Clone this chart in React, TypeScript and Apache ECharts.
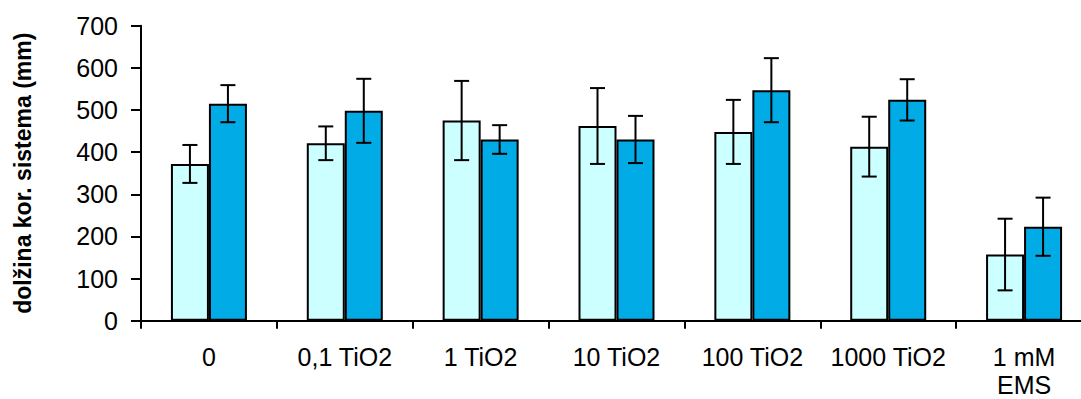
import React, { useEffect, useRef } from "react";
import * as echarts from "echarts";

const categories = ["0", "0,1 TiO2", "1 TiO2", "10 TiO2", "100 TiO2", "1000 TiO2", "1 mM\nEMS"];
const valuesLight = [372, 421, 475, 462, 448, 413, 157];
const errorsLight = [45, 40, 94, 90, 76, 71, 85];
const valuesDark = [515, 498, 430, 430, 547, 524, 223];
const errorsDark = [44, 76, 34, 56, 76, 49, 69];
const yTicks = { min: 0, max: 700, interval: 100 };

const FONT = "'Liberation Sans', Arial, sans-serif";
const BAR_W = 38;

function errorSeries(values: number[], errors: number[], offset: number) {
  return {
    type: "custom",
    z: 10,
    silent: true,
    data: values.map((v, i) => [i, v - errors[i], v + errors[i]]),
    encode: { x: 0, y: [1, 2] },
    renderItem: (params: any, api: any) => {
      const i = api.value(0);
      const top = api.coord([i, api.value(2)]);
      const bot = api.coord([i, api.value(1)]);
      const x = top[0] + offset;
      const cap = 7.5;
      const style = { stroke: "#000", lineWidth: 2 };
      return {
        type: "group",
        children: [
          { type: "line", shape: { x1: x, y1: top[1], x2: x, y2: bot[1] }, style },
          { type: "line", shape: { x1: x - cap, y1: top[1], x2: x + cap, y2: top[1] }, style },
          { type: "line", shape: { x1: x - cap, y1: bot[1], x2: x + cap, y2: bot[1] }, style },
        ],
      };
    },
  };
}

export default function App() {
  const ref = useRef<HTMLDivElement>(null);
  useEffect(() => {
    if (!ref.current) return;
    const chart = echarts.init(ref.current, null, { renderer: "svg" });
    chart.setOption({
      animation: false,
      backgroundColor: "#fff",
      grid: {
        left: 141,
        top: 25.7,
        width: 951,
        height: 295,
        containLabel: false,
        outerBoundsMode: "none",
      },
      xAxis: {
        type: "category",
        data: categories,
        axisLine: { lineStyle: { color: "#000", width: 2 } },
        axisTick: { show: true, length: 8, lineStyle: { color: "#000", width: 2 } },
        axisLabel: {
          color: "#000",
          fontFamily: FONT,
          fontSize: 25,
          lineHeight: 28,
          margin: 22,
          interval: 0,
        },
      },
      yAxis: {
        type: "value",
        min: yTicks.min,
        max: yTicks.max,
        interval: yTicks.interval,
        name: "dolžina kor. sistema (mm)",
        nameLocation: "middle",
        nameRotate: 90,
        nameGap: 107,
        nameTextStyle: { color: "#000", fontFamily: FONT, fontSize: 23, fontWeight: "bold" },
        axisLine: { show: true, lineStyle: { color: "#000", width: 2 } },
        axisTick: { show: true, length: 10, lineStyle: { color: "#000", width: 2 } },
        splitLine: { show: false },
        axisLabel: { color: "#000", fontFamily: FONT, fontSize: 25, margin: 23 },
      },
      series: [
        {
          name: "serija 1",
          type: "bar",
          data: valuesLight,
          barWidth: BAR_W,
          barGap: "0%",
          itemStyle: { color: "#CCFFFF", borderColor: "#000", borderWidth: 2 },
        },
        {
          name: "serija 2",
          type: "bar",
          data: valuesDark,
          barWidth: BAR_W,
          barGap: "0%",
          itemStyle: { color: "#00ABE6", borderColor: "#000", borderWidth: 2 },
        },
        errorSeries(valuesLight, errorsLight, -BAR_W / 2),
        errorSeries(valuesDark, errorsDark, BAR_W / 2),
      ],
    });
    return () => chart.dispose();
  }, []);
  return (
    <div
      ref={ref}
      style={{ position: "fixed", left: 0, top: 0, width: 1081, height: 399, background: "#fff" }}
    />
  );
}
